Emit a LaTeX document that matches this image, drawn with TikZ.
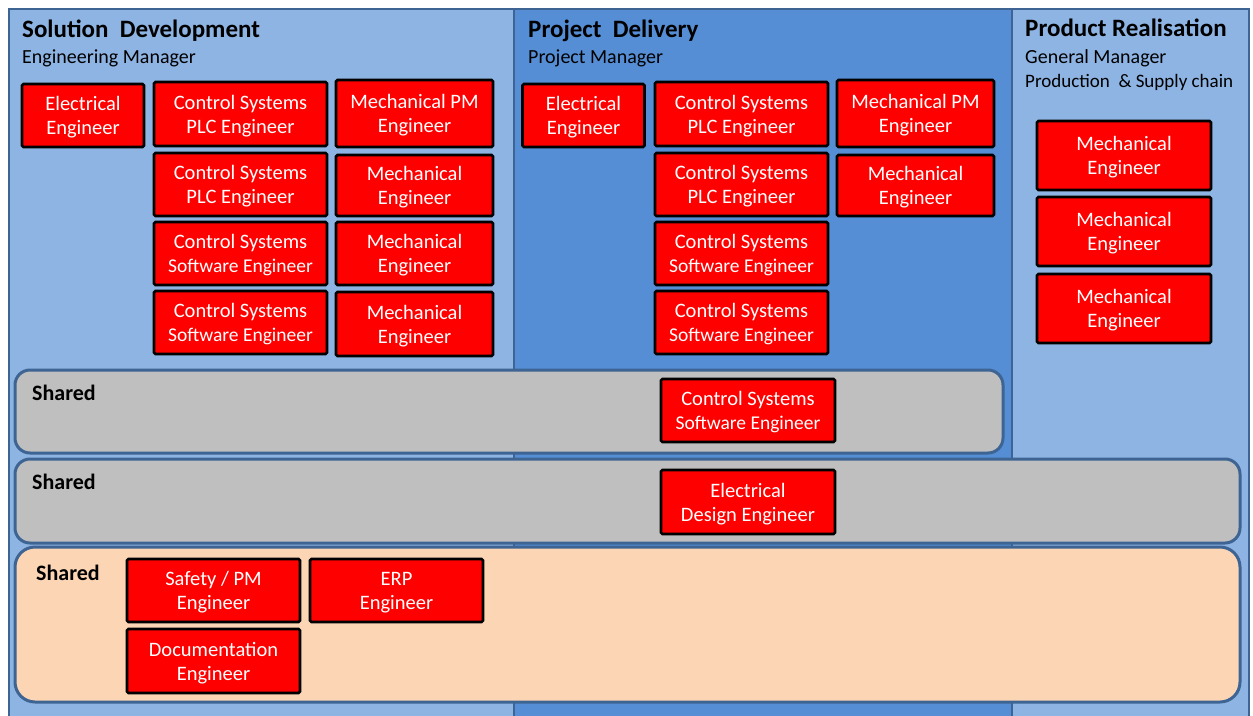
\documentclass[tikz,border=0pt]{standalone}
\usepackage{fontspec}
\setmainfont{Carlito}
\definecolor{colA}{RGB}{142,180,227}
\definecolor{colB}{RGB}{85,142,213}
\definecolor{edge}{RGB}{62,100,148}
\definecolor{shgray}{RGB}{191,191,191}
\definecolor{peach}{RGB}{252,213,181}
\definecolor{boxred}{RGB}{255,0,0}
\newcommand\twol[2]{\raisebox{-2.5pt}[\height][\depth]{\begin{tabular}{@{}c@{}}#1\\#2\end{tabular}}}
\newcommand\sw{{\fontsize{19.5}{24}\selectfont Software Engineer}}
\begin{document}
\begin{tikzpicture}[x=1pt,y=-1pt,
  column/.style={draw=edge,line width=2.5pt},
  sharedrow/.style={draw=edge,line width=3pt,rounded corners=15pt},
  rb/.style={draw=black,line width=2.8pt,fill=boxred,text=white,rounded corners=1.5pt,
    inner sep=0pt,font=\fontsize{20.5}{24}\selectfont},
  title/.style={anchor=base west,inner sep=0pt,font=\fontsize{25}{29}\selectfont\bfseries},
  sub/.style={anchor=base west,inner sep=0pt,font=\fontsize{20}{24}\selectfont},
  lbl/.style={anchor=base west,inner sep=0pt,font=\fontsize{22}{26}\selectfont\bfseries}]
\useasboundingbox (0,0) rectangle (1253,715);
% columns
\draw[column,fill=colA] (9,9) rectangle (514,740);
\draw[column,fill=colB] (514,9) rectangle (1012,740);
\draw[column,fill=colA] (1012,9) rectangle (1249,740);
% titles
\node[title] (t1) at (22,37) {Solution\ \ Development};
\node[sub] (s1) at (22,63) {Engineering Manager};
\node[title] (t2) at (528,37) {Project\ \ Delivery};
\node[sub] (s2) at (528,63) {Project Manager};
\node[title] (t3) at (1025,36) {Product Realisation};
\node[sub] (s3) at (1025,63) {General Manager};
\node[sub,font=\fontsize{19}{23}\selectfont] (s4) at (1025,87) {Production\ \ \& Supply chain};
% shared rows
\draw[sharedrow,fill=shgray] (15,370) rectangle (1003,453);
\draw[sharedrow,fill=shgray] (15,459) rectangle (1240,543);
\draw[sharedrow,fill=peach,rounded corners=20pt] (15,547) rectangle (1240,702);
\node[lbl] (l1) at (32,400) {Shared};
\node[lbl] (l2) at (32,489) {Shared};
\node[lbl] (l3) at (36,580) {Shared};
% column 1
\node[rb,minimum width=122pt,minimum height=63pt] (a1) at (83,115.5) {\twol{Electrical}{Engineer}};
\node[rb,minimum width=173pt,minimum height=64pt] (a2) at (240.5,114) {\twol{Control Systems}{PLC Engineer}};
\node[rb,minimum width=157pt,minimum height=67pt] (a3) at (414.5,113.5) {\twol{Mechanical PM}{Engineer}};
\node[rb,minimum width=173pt,minimum height=63pt] (a4) at (240.5,184.5) {\twol{Control Systems}{PLC Engineer}};
\node[rb,minimum width=157pt,minimum height=61pt] (a5) at (414.5,185.5) {\twol{Mechanical}{Engineer}};
\node[rb,minimum width=173pt,minimum height=63pt] (a6) at (240.5,253.5) {\twol{Control Systems}{\sw}};
\node[rb,minimum width=157pt,minimum height=63pt] (a7) at (414.5,253.5) {\twol{Mechanical}{Engineer}};
\node[rb,minimum width=173pt,minimum height=63pt] (a8) at (240.5,322.5) {\twol{Control Systems}{\sw}};
\node[rb,minimum width=157pt,minimum height=64pt] (a9) at (414.5,324) {\twol{Mechanical}{Engineer}};
% column 2
\node[rb,minimum width=122pt,minimum height=63pt] (b1) at (583.5,115.5) {\twol{Electrical}{Engineer}};
\node[rb,minimum width=173pt,minimum height=64pt] (b2) at (741.5,114) {\twol{Control Systems}{PLC Engineer}};
\node[rb,minimum width=157pt,minimum height=67pt] (b3) at (915.5,113.5) {\twol{Mechanical PM}{Engineer}};
\node[rb,minimum width=173pt,minimum height=63pt] (b4) at (741.5,184.5) {\twol{Control Systems}{PLC Engineer}};
\node[rb,minimum width=157pt,minimum height=61pt] (b5) at (915.5,185.5) {\twol{Mechanical}{Engineer}};
\node[rb,minimum width=173pt,minimum height=63pt] (b6) at (741.5,253.5) {\twol{Control Systems}{\sw}};
\node[rb,minimum width=173pt,minimum height=63pt] (b8) at (741.5,322.5) {\twol{Control Systems}{\sw}};
% column 3
\node[rb,minimum width=174pt,minimum height=69pt] (c1) at (1124,155.5) {\twol{Mechanical}{Engineer}};
\node[rb,minimum width=174pt,minimum height=69pt] (c2) at (1124,231.5) {\twol{Mechanical}{Engineer}};
\node[rb,minimum width=174pt,minimum height=69pt] (c3) at (1124,308.5) {\twol{Mechanical}{Engineer}};
% shared boxes
\node[rb,minimum width=174pt,minimum height=63pt] (d1) at (748,410.5) {\twol{Control Systems}{\sw}};
\node[rb,minimum width=174pt,minimum height=64pt] (d2) at (748,502) {\twol{Electrical}{Design Engineer}};
\node[rb,minimum width=173pt,minimum height=63pt] (e1) at (213.5,590.5) {\twol{Safety / PM}{Engineer}};
\node[rb,minimum width=173pt,minimum height=63pt] (e2) at (396.5,590.5) {\twol{ERP}{Engineer}};
\node[rb,minimum width=173pt,minimum height=64pt] (e3) at (213.5,661) {\twol{Documentation}{Engineer}};
\end{tikzpicture}
\end{document}
